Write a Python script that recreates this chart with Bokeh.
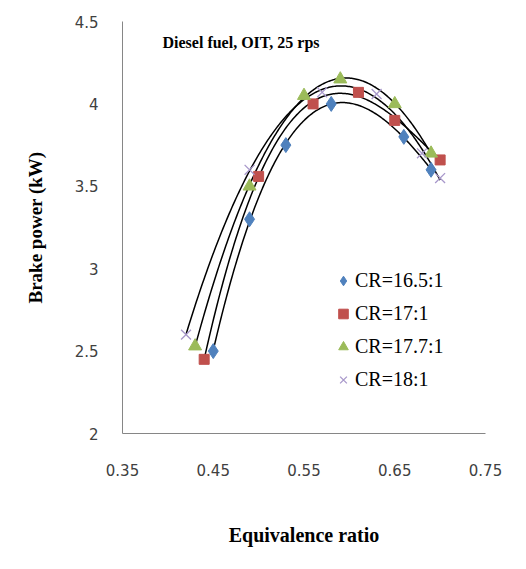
import numpy as np
from bokeh.plotting import figure
from bokeh.models import Label, Legend, LegendItem, FixedTicker
from bokeh.embed import file_html
from bokeh.resources import INLINE

# ---- data ----
x_165 = [0.45, 0.49, 0.53, 0.58, 0.66, 0.69]
y_165 = [2.50, 3.30, 3.75, 4.00, 3.80, 3.60]

x_17 = [0.44, 0.50, 0.56, 0.61, 0.65, 0.70]
y_17 = [2.45, 3.56, 4.00, 4.07, 3.90, 3.66]

x_177 = [0.43, 0.49, 0.55, 0.59, 0.65, 0.69]
y_177 = [2.53, 3.50, 4.05, 4.15, 4.00, 3.70]

x_18 = [0.42, 0.49, 0.57, 0.63, 0.68, 0.70]
y_18 = [2.60, 3.60, 4.07, 4.06, 3.70, 3.55]

labels = ["CR=16.5:1", "CR=17:1", "CR=17.7:1", "CR=18:1"]
x_ticks = [0.35, 0.45, 0.55, 0.65, 0.75]
y_ticks = [2, 2.5, 3, 3.5, 4, 4.5]

p = figure(width=510, height=553, output_backend="svg", toolbar_location=None,
           x_range=(0.35, 0.75), y_range=(2, 4.5),
           min_border_left=122, min_border_right=25, min_border_top=21, min_border_bottom=120)
p.xgrid.visible = False
p.ygrid.visible = False
p.outline_line_color = None
p.background_fill_color = "white"
p.border_fill_color = "white"

for ax in (p.xaxis[0], p.yaxis[0]):
    ax.axis_line_color = "#868686"
    ax.axis_line_width = 1
    ax.major_tick_line_color = None
    ax.minor_tick_line_color = None
    ax.major_label_text_font = "DejaVu Sans"
    ax.major_label_text_font_size = "15px"
    ax.major_label_text_color = "#404040"
    ax.axis_label_text_font = "Liberation Serif"
    ax.axis_label_text_font_style = "bold"
    ax.axis_label_text_font_size = "19px"
    ax.axis_label_text_color = "black"

p.xaxis.axis_label_text_font_size = "20px"
p.xaxis.ticker = FixedTicker(ticks=x_ticks)
p.yaxis.ticker = FixedTicker(ticks=y_ticks)
p.xaxis.major_label_overrides = {t: f"{t:.2f}" for t in x_ticks}
p.yaxis.major_label_overrides = {t: (f"{t:g}") for t in y_ticks}
p.xaxis.major_label_standoff = 24
p.yaxis.major_label_standoff = 18
p.xaxis.axis_label = "Equivalence ratio"
p.yaxis.axis_label = "Brake power (kW)"
p.xaxis.axis_label_standoff = 45
p.yaxis.axis_label_standoff = 26

series = [(x_165, y_165), (x_17, y_17), (x_177, y_177), (x_18, y_18)]

# polynomial trendlines (order 3), drawn between first and last point
for xs, ys in series:
    c = np.polyfit(xs, ys, 3)
    xf = np.linspace(min(xs), max(xs), 200)
    p.line(xf, np.polyval(c, xf), line_color="black", line_width=1.5)

r1 = p.scatter(x_165, y_165, marker="diamond", size=15, fill_color="#4F81BD", line_color="#4F81BD")
r2 = p.scatter(x_17, y_17, marker="square", size=10, fill_color="#C0504D", line_color="#C0504D")
r3 = p.scatter(x_177, y_177, marker="triangle", size=13, fill_color="#9BBB59", line_color="#9BBB59")
r4 = p.scatter(x_18, y_18, marker="x", size=14, line_color="#A898CB", line_width=1.3)

legend = Legend(items=[LegendItem(label=l, renderers=[r]) for l, r in zip(labels, [r1, r2, r3, r4])],
                location=(209, 38), orientation="vertical",
                glyph_width=24, glyph_height=31, label_height=31, label_standoff=0,
                spacing=2, padding=0, margin=0,
                border_line_color=None, background_fill_alpha=0,
                label_text_font="Liberation Serif", label_text_font_size="20px",
                label_text_color="black")
p.add_layout(legend)

p.add_layout(Label(x=40, y=391, x_units="screen", y_units="screen",
                   text="Diesel fuel, OIT, 25 rps", text_font="Liberation Serif",
                   text_font_style="bold", text_font_size="16px", text_baseline="middle",
                   text_color="black"))

open("out.html", "w").write(file_html(p, INLINE))
